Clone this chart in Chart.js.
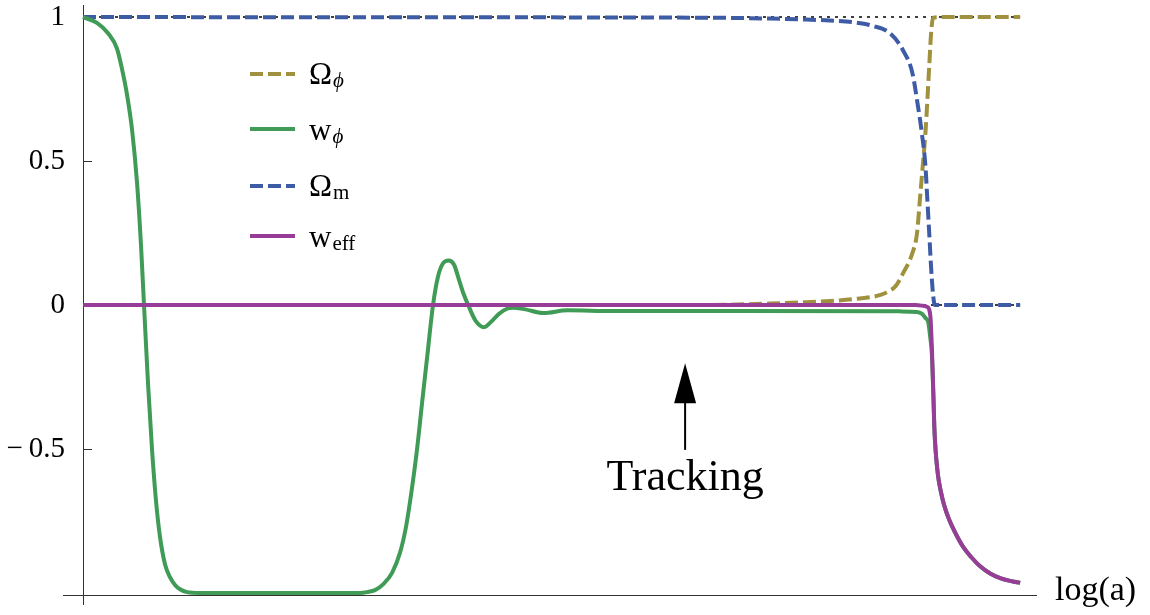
<!DOCTYPE html>
<html>
<head>
<meta charset="utf-8">
<script src="https://cdn.jsdelivr.net/npm/chart.js@4.4.0/dist/chart.umd.min.js"></script>
<style>
  html, body { margin: 0; padding: 0; background: #fff; }
  #wrap { width: 1150px; height: 615px; }
</style>
</head>
<body>
<div id="wrap"><canvas id="grafico" width="1150" height="615"></canvas></div>
<script>
// log(a) in arbitrary units, curves
const wPhiX = [0, 1.49, 2.67, 3.63, 4.16, 4.70, 5.23, 5.76, 6.19, 6.51, 6.94, 7.37, 7.79, 8.22, 8.75, 9.28, 9.82, 10.35, 11.1, 12.49,
  29.56, 30.31, 31.16, 32.02, 32.98, 33.83, 34.47, 35.0, 35.65, 36.18, 36.71, 37.35, 37.89, 38.42, 39.01, 39.6, 40.1, 40.6, 41.1, 41.9,
  42.8, 43.5, 44.4, 45.3, 45.9, 47.2, 49.1, 51.7, 56.6, 70, 87.2, 89.0, 89.5, 89.9, 90.2, 90.4, 90.58,
  90.75, 90.84, 90.93, 91.04, 91.25, 91.52, 91.89, 92.42, 93.06, 93.92, 94.77, 95.73, 96.8, 97.87, 98.93, 100];
const wPhiY = [1.0, 0.98, 0.944, 0.89, 0.82, 0.73, 0.61, 0.427, 0.207, 0.0, -0.274, -0.504, -0.68, -0.806, -0.90, -0.945, -0.972, -0.987, -0.997, -1.0,
  -1.0, -0.997, -0.99, -0.97, -0.93, -0.86, -0.77, -0.66, -0.5, -0.34, -0.185, 0.0, 0.1, 0.145, 0.155, 0.14, 0.09, 0.04, 0.0, -0.055,
  -0.077, -0.06, -0.03, -0.012, -0.009, -0.015, -0.028, -0.018, -0.021, -0.021, -0.022, -0.024, -0.03, -0.045, -0.06, -0.11, -0.17,
  -0.32, -0.42, -0.48, -0.53, -0.595, -0.645, -0.695, -0.745, -0.79, -0.84, -0.875, -0.907, -0.932, -0.948, -0.958, -0.965];

const wEffX = [0, 88.8, 89.5, 90.04, 90.29, 90.45, 90.52, 90.58, 90.75, 90.84, 90.93, 91.04, 91.25, 91.52, 91.89, 92.42,
  93.06, 93.92, 94.77, 95.73, 96.8, 97.87, 98.93, 100];
const wEffY = [0, 0, -0.002, -0.006, -0.015, -0.05, -0.1, -0.145, -0.32, -0.42, -0.48, -0.53, -0.595, -0.645, -0.695, -0.745,
  -0.79, -0.84, -0.875, -0.907, -0.932, -0.948, -0.958, -0.965];

const omegaPhiX = [0, 65.9, 73.3, 76.5, 79.7, 82.9, 85.1, 86.1, 86.7, 87.5, 88.5, 89.0, 89.3, 89.6, 89.9, 90.1, 90.3, 90.5, 90.7, 91.5, 100];
const omegaPhiY = [0, 0, 0.005, 0.009, 0.014, 0.023, 0.035, 0.05, 0.065, 0.11, 0.18, 0.25, 0.365, 0.48, 0.6, 0.71, 0.83, 0.944, 0.997, 1.0, 1.0];

const omegaMX = [0, 65.9, 73.3, 76.5, 79.7, 82.2, 84.2, 86.1, 87.5, 88.5, 89.1, 89.5, 89.9, 90.1, 90.3, 90.5, 90.7, 90.9, 100];
const omegaMY = [1.0, 0.998, 0.995, 0.992, 0.988, 0.982, 0.97, 0.944, 0.885, 0.806, 0.69, 0.6, 0.48, 0.365, 0.25, 0.13, 0.04, 0.0, 0];

const refLineX = [0, 100];
const refLevels = [1, 0];

const yTicks = [-0.5, 0, 0.5, 1];
const yTickLabels = ['\u2212\u20090.5', '0', '0.5', '1'];

const xRange = [0, 101.8];
const yRange = [-1.007, 1.042];

// "Tracking" arrow, in data units
const trackingX = 64.25;
const trackingArrow = [-0.503, -0.202];
const trackingTextY = -0.642;

const cores = {
    omegaPhi: '#a0913e',
    wPhi: '#3f9b56',
    omegaM: '#3e5ba6',
    wEff: '#983d97'
};

function pontos(xs, ys) {
    return xs.map((x, i) => ({ x: x, y: ys[i] }));
}

function serie(xs, ys, cor, dash) {
    return {
        data: pontos(xs, ys),
        borderColor: cor,
        borderWidth: 4,
        borderDash: dash || [],
        pointRadius: 0,
        fill: false,
        cubicInterpolationMode: 'monotone',
        clip: 10
    };
}

const serif = '"Liberation Serif", "DejaVu Serif", serif';

const eixosPlugin = {
    id: 'eixos',
    beforeDatasetsDraw(chart) {
        const ctx = chart.ctx;
        const area = chart.chartArea;
        const y = chart.scales.y;
        ctx.save();
        ctx.strokeStyle = '#333';
        ctx.lineWidth = 1;
        ctx.beginPath();
        ctx.moveTo(area.left + 0.5, area.top);
        ctx.lineTo(area.left + 0.5, area.bottom + 10);
        ctx.moveTo(area.left - 20, area.bottom + 0.5);
        ctx.lineTo(area.right, area.bottom + 0.5);
        yTicks.forEach(v => {
            const py = Math.round(y.getPixelForValue(v)) + 0.5;
            ctx.moveTo(area.left, py);
            ctx.lineTo(area.left + 9, py);
        });
        ctx.stroke();
        ctx.restore();
    },
    afterDraw(chart) {
        const ctx = chart.ctx;
        const area = chart.chartArea;
        const sx = chart.scales.x;
        const sy = chart.scales.y;
        ctx.save();

        // legenda
        const itens = [
            { main: '\u03A9', sub: '\u03D5', italic: true, cor: cores.omegaPhi, dash: [13, 5], y: 74, base: 83.5 },
            { main: 'w', sub: '\u03D5', italic: true, cor: cores.wPhi, dash: [], y: 129, base: 139.5 },
            { main: '\u03A9', sub: 'm', italic: false, cor: cores.omegaM, dash: [13, 5], y: 186, base: 195.5 },
            { main: 'w', sub: 'eff', italic: false, cor: cores.wEff, dash: [], y: 236, base: 246.5 }
        ];
        itens.forEach(it => {
            ctx.strokeStyle = it.cor;
            ctx.lineWidth = 4;
            ctx.setLineDash(it.dash);
            ctx.beginPath();
            ctx.moveTo(250, it.y);
            ctx.lineTo(295, it.y);
            ctx.stroke();
            ctx.setLineDash([]);
            ctx.fillStyle = '#000';
            ctx.textAlign = 'left';
            ctx.textBaseline = 'alphabetic';
            ctx.font = '31px ' + serif;
            ctx.fillText(it.main, 309, it.base);
            const w = ctx.measureText(it.main).width;
            ctx.font = (it.italic ? 'italic ' : '') + '21px ' + serif;
            ctx.fillText(it.sub, 309 + w + 1, it.base + 3.5);
        });

        // seta "Tracking"
        const ax = sx.getPixelForValue(trackingX);
        const yBase = sy.getPixelForValue(trackingArrow[0]);
        const yTip = sy.getPixelForValue(trackingArrow[1]);
        ctx.strokeStyle = '#000';
        ctx.fillStyle = '#000';
        ctx.lineWidth = 2;
        ctx.beginPath();
        ctx.moveTo(ax, yBase);
        ctx.lineTo(ax, yTip + 30);
        ctx.stroke();
        ctx.beginPath();
        ctx.moveTo(ax, yTip);
        ctx.lineTo(ax - 11, yTip + 40);
        ctx.lineTo(ax + 11, yTip + 40);
        ctx.closePath();
        ctx.fill();
        ctx.font = '44px ' + serif;
        ctx.textAlign = 'center';
        ctx.fillText('Tracking', ax, sy.getPixelForValue(trackingTextY));

        // rótulo do eixo x
        ctx.font = '34px ' + serif;
        ctx.textAlign = 'left';
        ctx.fillText('log(a)', area.right + 18, area.bottom + 5);
        ctx.restore();
    }
};

window.addEventListener('DOMContentLoaded', () => {
    const ctx = document.getElementById('grafico').getContext('2d');

    const datasets = [
        serie(wEffX, wEffY, cores.wEff),
        serie(wPhiX, wPhiY, cores.wPhi),
        serie(omegaMX, omegaMY, cores.omegaM, [13, 5]),
        serie(omegaPhiX, omegaPhiY, cores.omegaPhi, [13, 5])
    ];
    refLevels.forEach(v => {
        datasets.push({
            data: pontos(refLineX, refLineX.map(() => v)),
            borderColor: '#000',
            borderWidth: 1.5,
            borderDash: [3, 5],
            pointRadius: 0,
            fill: false
        });
    });

    new Chart(ctx, {
        type: 'line',
        data: { datasets: datasets },
        options: {
            responsive: false,
            devicePixelRatio: 1,
            animation: false,
            layout: { padding: { top: 5, bottom: 20, left: 0, right: 113 } },
            plugins: {
                legend: { display: false },
                tooltip: { enabled: false }
            },
            scales: {
                x: {
                    type: 'linear',
                    min: xRange[0],
                    max: xRange[1],
                    display: false
                },
                y: {
                    type: 'linear',
                    min: yRange[0],
                    max: yRange[1],
                    grid: { display: false },
                    border: { display: false },
                    afterBuildTicks(scale) {
                        scale.ticks = yTicks.map(v => ({ value: v }));
                    },
                    afterFit(scale) {
                        scale.width = 83;
                        scale.paddingTop = 0;
                        scale.paddingBottom = 0;
                    },
                    ticks: {
                        padding: 10,
                        color: '#000',
                        font: { family: serif, size: 29 },
                        callback: function (value) {
                            return yTickLabels[yTicks.indexOf(value)];
                        }
                    }
                }
            }
        },
        plugins: [eixosPlugin]
    });
});
</script>
</body>
</html>
